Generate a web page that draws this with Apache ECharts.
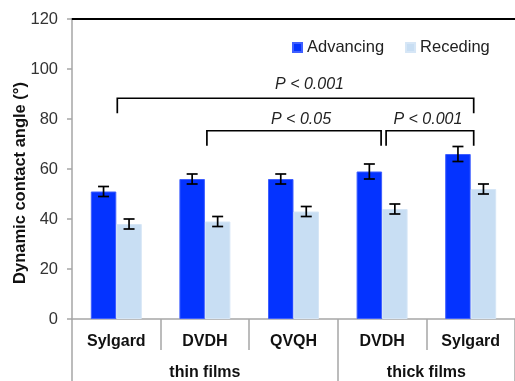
<!DOCTYPE html>
<html><head><meta charset="utf-8">
<script src="https://cdn.jsdelivr.net/npm/echarts@6/dist/echarts.min.js"></script>
<style>html,body{margin:0;padding:0;background:#fff}#c{width:515px;height:381px}</style>
</head><body><div id="c"></div>
<script>
// ---- data ----
const categories = ['Sylgard', 'DVDH', 'QVQH', 'DVDH', 'Sylgard'];
const groupNames = ['thin films', 'thick films'];
const groupSizes = [3, 2];
const advancing = [51, 56, 56, 59, 66];
const advancingErr = [2, 2, 2, 3, 3];
const receding = [38, 39, 43, 44, 52];
const recedingErr = [2, 2, 2, 2, 2];
const yMin = 0, yMax = 120, yInterval = 20;
const bracketFrom = [0, 1, 3];
const bracketTo = [4, 3, 4];
const bracketLevel = [88.3, 75.3, 75.3];
const bracketText = ['P < 0.001', 'P < 0.05', 'P < 0.001'];
const yName = 'Dynamic contact angle (°)';

// ---- style ----
const FONT = '"Liberation Sans", Arial, Helvetica, sans-serif';
const BAR_W = 25.5;
const LEG = 6;
const bracketNudge = [[1, 3], [2, -1], [4, 3]];
const labelNudge = [[14, 14], [7, 11], [-2, 11]];
const GRAY = '#a6a6a6';

const chart = echarts.init(document.getElementById('c'), null, {renderer: 'canvas'});

function errRender(side) {
  return function (params, api) {
    const i = api.value(0), v = api.value(1), e = api.value(2);
    const c = api.coord([i, v]);
    const x = c[0] + side * BAR_W / 2;
    const top = api.coord([i, v + e])[1], bot = api.coord([i, v - e])[1];
    const hw = 5.5;
    const st = {stroke: '#000', lineWidth: 1.7};
    return {type: 'group', children: [
      {type: 'line', shape: {x1: x, y1: top, x2: x, y2: bot}, style: st},
      {type: 'line', shape: {x1: x - hw, y1: top, x2: x + hw, y2: top}, style: st},
      {type: 'line', shape: {x1: x - hw, y1: bot, x2: x + hw, y2: bot}, style: st}
    ]};
  };
}

function bracketRender(params, api) {
  const idx = params.dataIndex;
  const a = api.value(0), b = api.value(1), lvl = api.value(2);
  const p1 = api.coord([a, lvl]), p2 = api.coord([b, lvl]);
  const drop = api.coord([a, lvl - LEG])[1];
  const x1 = p1[0] + bracketNudge[idx][0], x2 = p2[0] + bracketNudge[idx][1];
  const y = p1[1];
  return {type: 'group', children: [
    {type: 'polyline', shape: {points: [[x1, drop], [x1, y], [x2, y], [x2, drop]]},
     style: {stroke: '#000', lineWidth: 1.7, fill: null}},
    {type: 'text', x: (x1 + x2) / 2 + labelNudge[idx][0], y: y - labelNudge[idx][1],
     style: {text: bracketText[idx], font: 'italic 16px ' + FONT, fill: '#222',
             align: 'center', verticalAlign: 'middle'}}
  ]};
}

// group boundaries
const groupBounds = [0];
groupSizes.forEach(s => groupBounds.push(groupBounds[groupBounds.length - 1] + s));
const groupCenters = groupSizes.map((s, i) => groupBounds[i] + s / 2);

chart.setOption({
  animation: false,
  backgroundColor: '#fff',
  textStyle: {fontFamily: FONT},
  grid: {left: 72, top: 19, width: 447, height: 300, containLabel: false},
  legend: {
    data: ['Advancing', 'Receding'],
    left: 292, top: 39, padding: 0, itemWidth: 9, itemHeight: 9, itemGap: 21, icon: 'rect',
    textStyle: {fontSize: 16.5, color: '#222', fontFamily: FONT}
  },
  graphic: [{
    type: 'text', x: 20, y: 183, rotation: Math.PI / 2,
    style: {text: yName, font: 'bold 16.5px ' + FONT, fill: '#111', align: 'center', verticalAlign: 'middle'}
  }],
  xAxis: [{
    type: 'category', data: categories, position: 'bottom',
    axisLine: {show: true, lineStyle: {color: GRAY, width: 1.5}},
    axisTick: {show: true, alignWithLabel: false, interval: 0, length: 31, lineStyle: {color: GRAY, width: 1.5}},
    axisLabel: {interval: 0, margin: 15, fontSize: 16, fontWeight: 'bold', color: '#111', fontFamily: FONT},
    splitLine: {show: false}
  }, {
    type: 'value', position: 'bottom', min: 0, max: categories.length,
    axisLine: {show: false},
    axisTick: {show: true, customValues: groupBounds, length: 62, lineStyle: {color: GRAY, width: 1.5}},
    axisLabel: {show: true, customValues: groupCenters, margin: 46, fontSize: 16, fontWeight: 'bold', color: '#111', fontFamily: FONT,
      formatter: v => groupNames[groupCenters.indexOf(v)]},
    splitLine: {show: false}
  }, {
    type: 'category', data: categories, position: 'top',
    axisLine: {show: true, lineStyle: {color: '#000', width: 2}},
    axisTick: {show: false}, axisLabel: {show: false}, splitLine: {show: false}
  }],
  yAxis: {
    type: 'value', min: yMin, max: yMax, interval: yInterval,
    axisLine: {show: true, lineStyle: {color: GRAY, width: 1.5}},
    axisTick: {show: true, length: 5, lineStyle: {color: GRAY, width: 1.5}},
    axisLabel: {margin: 14, fontSize: 16.5, color: '#333', fontFamily: FONT},
    splitLine: {show: false}
  },
  series: [{
    name: 'Advancing', type: 'bar', data: advancing, barWidth: BAR_W, barGap: '0%',
    itemStyle: {color: '#0433ff', borderColor: '#3f5fff', borderWidth: 1}
  }, {
    name: 'Receding', type: 'bar', data: receding, barWidth: BAR_W, barGap: '0%',
    itemStyle: {color: '#c8def3', borderColor: '#d6e6f6', borderWidth: 1}
  }, {
    type: 'custom', renderItem: errRender(-1), z: 5,
    data: advancing.map((v, i) => [i, v, advancingErr[i]])
  }, {
    type: 'custom', renderItem: errRender(1), z: 5,
    data: receding.map((v, i) => [i, v, recedingErr[i]])
  }, {
    type: 'custom', renderItem: bracketRender, z: 6,
    data: bracketFrom.map((f, i) => [f, bracketTo[i], bracketLevel[i]])
  }]
});
</script></body></html>
